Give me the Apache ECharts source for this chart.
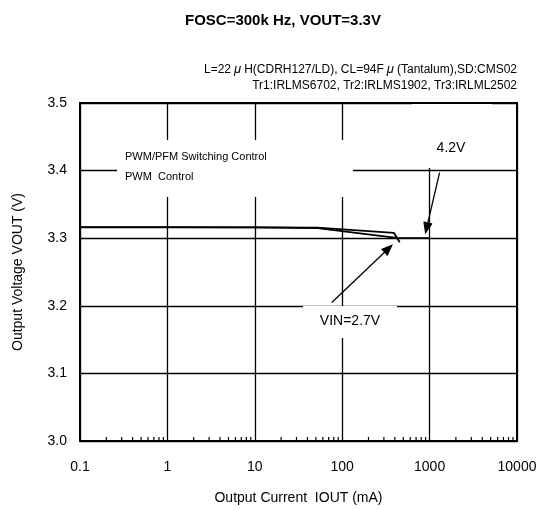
<!DOCTYPE html>
<html>
<head>
<meta charset="utf-8">
<script src="https://cdn.jsdelivr.net/npm/echarts@6/dist/echarts.min.js"></script>
<style>
  html, body { margin: 0; padding: 0; background: #fff; }
  #chart { width: 542px; height: 510px; }
</style>
</head>
<body>
<div id="chart"></div>
<script>
// output current (mA) vs output voltage (V)
const currentPwmPfm = [0.1, 1, 10, 52, 390, 455];
const voutPwmPfm = [3.316, 3.316, 3.316, 3.3155, 3.308, 3.294];
const currentPwm = [0.1, 1, 10, 52, 420, 1000];
const voutPwm = [3.3165, 3.3165, 3.316, 3.315, 3.3005, 3.300];

const xTickLabels = ['0.1', '1', '10', '100', '1000', '10000'];
const yTickLabels = ['3.0', '3.1', '3.2', '3.3', '3.4', '3.5'];

// annotation arrows: [fromX, fromY, toX, toY] in data units
const arrows = [
  [1300, 3.397, 900, 3.3085],
  [76, 3.205, 368, 3.2892]
];

// minor ticks on bottom axis (2..9 in each decade)
const minorTicks = [];
[0.1, 1, 10, 100, 1000].forEach(d => {
  for (let k = 2; k <= 9; k++) minorTicks.push([+(d * k).toPrecision(3), 3.0]);
});

const chart = echarts.init(document.getElementById('chart'));
const font = 'Liberation Sans, Arial, sans-serif';

const pairs = (xs, ys) => xs.map((x, i) => [x, ys[i]]);

chart.setOption({
  animation: false,
  backgroundColor: '#fff',
  title: {
    text: 'FOSC=300k Hz, VOUT=3.3V',
    left: 180,
    top: 8,
    textStyle: { fontFamily: font, fontSize: 15, fontWeight: 'bold', color: '#000' }
  },
  grid: {
    left: 80, right: 25, top: 103, bottom: 69,
    show: true, borderColor: '#000', borderWidth: 2, backgroundColor: 'transparent'
  },
  xAxis: {
    type: 'log',
    logBase: 10,
    min: 0.1,
    max: 10000,
    name: 'Output Current  IOUT (mA)',
    nameLocation: 'middle',
    nameGap: 50,
    nameTextStyle: { fontFamily: font, fontSize: 14, color: '#000' },
    axisLine: { show: false },
    axisTick: { show: false },
    axisLabel: {
      margin: 19,
      fontFamily: font, fontSize: 14, color: '#000',
      formatter: v => {
        const i = Math.round(Math.log10(v)) + 1;
        return xTickLabels[i] !== undefined ? xTickLabels[i] : '';
      }
    },
    splitLine: { show: true, lineStyle: { color: '#000', width: 1.3 } }
  },
  yAxis: {
    type: 'value',
    min: 3.0,
    max: 3.5,
    interval: 0.1,
    name: 'Output Voltage VOUT (V)',
    nameLocation: 'middle',
    nameGap: 55,
    nameTextStyle: { fontFamily: font, fontSize: 14, color: '#000' },
    axisLine: { show: false },
    axisTick: { show: false },
    axisLabel: {
      margin: 13,
      fontFamily: font, fontSize: 14, color: '#000',
      formatter: v => yTickLabels[Math.round((v - 3.0) * 10)]
    },
    splitLine: { show: true, lineStyle: { color: '#000', width: 1.3 } }
  },
  graphic: [
    {
      type: 'text', right: 25, top: 63, z: 100,
      style: {
        text: 'L=22{mu|μ}H(CDRH127/LD), CL=94F{mu|μ}(Tantalum),SD:CMS02',
        font: '12px ' + font, fill: '#000',
        rich: { mu: { fontStyle: 'italic', fontSize: 13, fontFamily: font, padding: [0, 3, 0, 3] } }
      }
    },
    {
      type: 'text', right: 25, top: 80, z: 100,
      style: { text: 'Tr1:IRLMS6702, Tr2:IRLMS1902, Tr3:IRLML2502', font: '12px ' + font, fill: '#000' }
    },
    // legend box
    { type: 'rect', shape: { x: 117, y: 140, width: 236, height: 57 }, style: { fill: '#fff' }, z: 100 },
    { type: 'text', x: 125, y: 151, z: 101, style: { text: 'PWM/PFM Switching Control', font: '11px ' + font, fill: '#000' } },
    { type: 'text', x: 125, y: 171, z: 101, style: { text: 'PWM  Control', font: '11px ' + font, fill: '#000' } },
    // 4.2V label
    { type: 'rect', shape: { x: 412, y: 104, width: 80, height: 64 }, style: { fill: '#fff' }, z: 100 },
    { type: 'text', x: 451, y: 148, z: 101, style: { text: '4.2V', font: '14px ' + font, fill: '#000', align: 'center', verticalAlign: 'middle' } },
    // VIN label
    { type: 'rect', shape: { x: 303, y: 306, width: 94, height: 32 }, style: { fill: '#fff' }, z: 100 },
    { type: 'text', x: 350, y: 321, z: 101, style: { text: 'VIN=2.7V', font: '14px ' + font, fill: '#000', align: 'center', verticalAlign: 'middle' } }
  ],
  series: [
    {
      name: 'PWM/PFM Switching Control',
      type: 'line',
      data: pairs(currentPwmPfm, voutPwmPfm),
      showSymbol: false,
      lineStyle: { color: '#000', width: 1.8 },
      z: 5
    },
    {
      name: 'PWM Control',
      type: 'line',
      data: pairs(currentPwm, voutPwm),
      showSymbol: false,
      lineStyle: { color: '#000', width: 1.8 },
      z: 5
    },
    {
      type: 'custom',
      data: arrows,
      encode: { x: [0, 2], y: [1, 3] },
      z: 120,
      renderItem: (params, api) => {
        const p1 = api.coord([api.value(0), api.value(1)]);
        const p2 = api.coord([api.value(2), api.value(3)]);
        const a = Math.atan2(p2[1] - p1[1], p2[0] - p1[0]);
        const len = 11, spread = 0.38;
        const h1 = [p2[0] - len * Math.cos(a - spread), p2[1] - len * Math.sin(a - spread)];
        const h2 = [p2[0] - len * Math.cos(a + spread), p2[1] - len * Math.sin(a + spread)];
        const st = { stroke: '#000', lineWidth: 1.3 };
        return {
          type: 'group',
          children: [
            { type: 'line', shape: { x1: p1[0], y1: p1[1], x2: p2[0], y2: p2[1] }, style: st },
            { type: 'polyline', shape: { points: [h1, p2, h2] }, style: st }
          ]
        };
      }
    },
    {
      type: 'custom',
      data: minorTicks,
      z: 6,
      renderItem: (params, api) => {
        const p = api.coord([api.value(0), api.value(1)]);
        return {
          type: 'line',
          shape: { x1: p[0], y1: p[1], x2: p[0], y2: p[1] - 4 },
          style: { stroke: '#000', lineWidth: 1.2 }
        };
      }
    }
  ]
});
</script>
</body>
</html>
